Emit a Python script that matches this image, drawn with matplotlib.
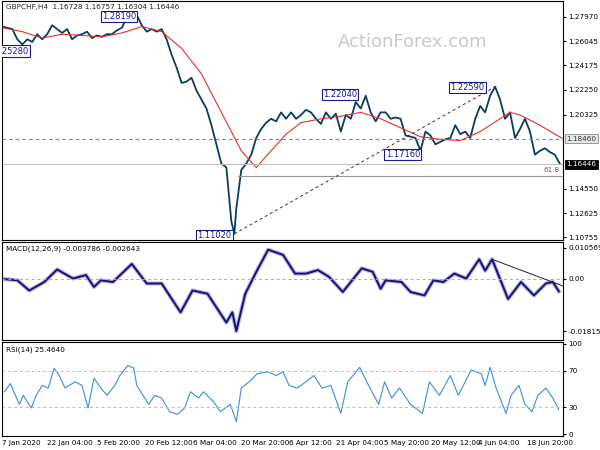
import matplotlib
matplotlib.use("Agg")
import matplotlib.pyplot as plt
import matplotlib.transforms as mtrans

# time axis in chart pixels (0..565)
price_t = list(range(0, 565, 5))
price = [1.272, 1.271, 1.270, 1.262, 1.258, 1.262, 1.260, 1.266, 1.262, 1.266, 1.273, 1.270,
         1.267, 1.270, 1.262, 1.265, 1.266, 1.268, 1.263, 1.265, 1.264, 1.266, 1.266, 1.269,
         1.271, 1.279, 1.277, 1.281, 1.273, 1.268, 1.270, 1.268, 1.270, 1.262, 1.250, 1.240,
         1.228, 1.229, 1.232, 1.222, 1.215, 1.208, 1.195, 1.180, 1.165, 1.162, 1.120, 1.130,
         1.160, 1.165, 1.172, 1.185, 1.192, 1.197, 1.200, 1.198, 1.205, 1.200, 1.205, 1.200,
         1.203, 1.207, 1.205, 1.200, 1.196, 1.205, 1.200, 1.204, 1.190, 1.203, 1.200, 1.213,
         1.208, 1.218, 1.205, 1.198, 1.205, 1.205, 1.200, 1.201, 1.200, 1.187, 1.186, 1.185,
         1.175, 1.190, 1.187, 1.180, 1.182, 1.184, 1.185, 1.195, 1.188, 1.190, 1.185, 1.200,
         1.210, 1.205, 1.218, 1.225, 1.215, 1.200, 1.205, 1.185, 1.192, 1.200, 1.190, 1.172,
         1.175, 1.177, 1.174, 1.172, 1.165]
low_t, low_v = 233, 1.1102

ma_t = [0, 20, 40, 60, 80, 100, 120, 140, 160, 180, 200, 220, 240, 255, 270, 285, 300, 320,
        340, 360, 380, 400, 420, 440, 460, 480, 500, 510, 520, 540, 555, 562]
ma = [1.271, 1.268, 1.263, 1.266, 1.265, 1.264, 1.267, 1.272, 1.268, 1.255, 1.235, 1.205,
      1.175, 1.162, 1.175, 1.188, 1.197, 1.200, 1.202, 1.205, 1.200, 1.193, 1.186, 1.184,
      1.183, 1.190, 1.200, 1.205, 1.203, 1.195, 1.188, 1.185]

macd_t = [2, 15, 27, 42, 55, 71, 84, 92, 99, 111, 130, 145, 160, 179, 191, 206, 225, 231, 235,
          244, 256, 267, 282, 294, 305, 317, 328, 342, 361, 372, 380, 385, 401, 410, 424, 433,
          443, 454, 466, 479, 485, 492, 508, 521, 534, 546, 553, 559]
macd = [-0.0002, -0.0006, -0.0041, -0.0012, 0.0031, 0.0, 0.0012, -0.0029, -0.0006, -0.0012,
        0.0050, -0.0017, -0.0017, -0.0116, -0.0041, -0.0052, -0.0151, -0.0116, -0.0180,
        -0.0052, 0.0029, 0.0099, 0.0081, 0.0017, 0.0017, 0.0029, 0.0006, -0.0046, 0.0035,
        0.0023, -0.0035, -0.0006, -0.0012, -0.0046, -0.0058, -0.0006, -0.0012, 0.0017, 0.0,
        0.0066, 0.0027, 0.0066, -0.0070, -0.0012, -0.0058, -0.0017, -0.0012, -0.0044]

rsi_t = [2, 8, 17, 21, 29, 34, 40, 46, 52, 57, 63, 73, 80, 86, 92, 99, 105, 113, 118, 126,
         132, 135, 143, 147, 153, 160, 168, 176, 183, 189, 197, 202, 212, 219, 229, 235, 240,
         248, 256, 267, 275, 282, 288, 296, 305, 313, 321, 330, 340, 347, 359, 366, 378, 384,
         391, 399, 410, 422, 429, 439, 450, 458, 471, 481, 485, 490, 496, 506, 511, 519, 525,
         532, 538, 546, 553, 559]
rsi = [47, 56, 33, 43, 29, 43, 54, 51, 73, 65, 51, 58, 54, 29, 62, 51, 43, 54, 65, 76,
       73, 54, 40, 33, 43, 40, 25, 22, 29, 47, 40, 47, 36, 25, 33, 14, 51, 58, 67, 69,
       65, 69, 54, 51, 58, 65, 51, 54, 23, 58, 74, 58, 33, 58, 40, 51, 33, 23, 58, 43,
       65, 43, 71, 67, 54, 74, 51, 23, 43, 54, 33, 25, 43, 51, 40, 27]

price_ticks = [1.27970, 1.26045, 1.24175, 1.22250, 1.20325, 1.14550, 1.12625, 1.10755]
date_t = [0, 45, 95, 143, 191, 240, 288, 335, 383, 431, 478, 527]
date_lbl = ["7 Jan 2020", "22 Jan 04:00", "5 Feb 20:00", "20 Feb 12:00", "6 Mar 04:00",
            "20 Mar 20:00", "6 Apr 12:00", "21 Apr 04:00", "5 May 20:00", "20 May 12:00",
            "4 Jun 04:00", "18 Jun 20:00"]

plt.rcParams['font.family'] = ['DejaVu Sans']
fs = 5.2
fig = plt.figure(figsize=(6, 4.5), dpi=100)
ax = fig.add_axes([0.004, 0.467, 0.934, 0.531])
am = fig.add_axes([0.004, 0.245, 0.934, 0.217])
ar = fig.add_axes([0.004, 0.031, 0.934, 0.209])
for a in (ax, am, ar):
    a.set_xlim(0, 563)
    a.yaxis.tick_right()
    a.tick_params(labelsize=fs, length=2, pad=2)
    a.set_xticks([])

# main price
pt = price_t[:47] + [low_t] + price_t[47:]
pv = price[:47] + [low_v] + price[47:]
ax.plot(pt, pv, color='#0b3d5a', lw=1.3)
ax.plot(ma_t, ma, color='#e8302a', lw=0.8)
ax.set_ylim(1.1055, 1.2920)
ax.set_yticks(price_ticks)
ax.set_yticklabels([f"{v:.5f}" for v in price_ticks])
ax.axhline(1.18460, color='gray', lw=0.8, ls=(0, (3, 3)))
ax.axhline(1.16446, color='#c0c0c0', lw=0.8)
ax.axhline(1.1555, color='#999999', lw=0.8, xmin=0.42)
ax.plot([low_t, 497], [low_v, 1.2259], color='#333333', lw=0.7, ls=(0, (3, 3)))
ax.text(560, 1.1575, "61.8", fontsize=fs, color='#666666', ha='right', va='bottom')
tr = mtrans.blended_transform_factory(ax.transAxes, ax.transData)
ax.text(1.006, 1.18460, "1.18460", transform=tr, fontsize=fs, va='center', color='#333',
        bbox=dict(boxstyle='square,pad=0.2', fc='#e6e6e6', ec='#888', lw=0.6))
ax.text(1.006, 1.16446, "1.16446", transform=tr, fontsize=fs, va='center', color='white',
        bbox=dict(boxstyle='square,pad=0.2', fc='black', ec='black', lw=0.6))
box = dict(boxstyle='square,pad=0.15', fc='white', ec='#1a1a8c', lw=0.8)
for x, y, s in [(100, 1.2800, "1.28190"), (-8, 1.2528, "1.25280"), (322, 1.2190, "1.22040"),
                (450, 1.2245, "1.22590"), (385, 1.1720, "1.17160"), (196, 1.1090, "1.11020")]:
    ax.text(x, y, s, fontsize=6, color='#1a1a8c', bbox=box, va='center', clip_on=True)
ax.text(4, 1.2895, "GBPCHF,H4  1.16728 1.16757 1.16304 1.16446", fontsize=fs, color='#222',
        va='top')
ax.text(412, 1.2600, "ActionForex.com", fontsize=13, color='#c8c8c8', ha='center', va='center')

# MACD
am.plot(macd_t, macd, color='#b8b0e8', lw=3)
am.plot(macd_t, macd, color='#141470', lw=1.4)
am.axhline(0, color='#aaa', lw=0.7, ls=(0, (3, 3)))
am.plot([492, 565], [0.0066, -0.0028], color='#222', lw=0.7)
am.set_ylim(-0.0210, 0.0125)
am.set_yticks([0.010569, 0.0, -0.018154])
am.set_yticklabels(["0.010569", "0.00", "-0.018154"])
am.text(4, 0.0115, "MACD(12,26,9) -0.003786 -0.002643", fontsize=fs, va='top')

# RSI
ar.plot(rsi_t, rsi, color='#3a8fdc', lw=0.8)
for lv in (70, 30):
    ar.axhline(lv, color='#bbb', lw=0.7, ls=(0, (3, 3)))
ar.set_ylim(-2, 102)
ar.set_yticks([100, 70, 30, 0])
ar.text(4, 97, "RSI(14) 25.4640", fontsize=fs, va='top')
for x, s in zip(date_t, date_lbl):
    ar.text(x, -6, s, fontsize=fs, va='top', ha='left', clip_on=False)

fig.savefig("out.png", dpi=100)
